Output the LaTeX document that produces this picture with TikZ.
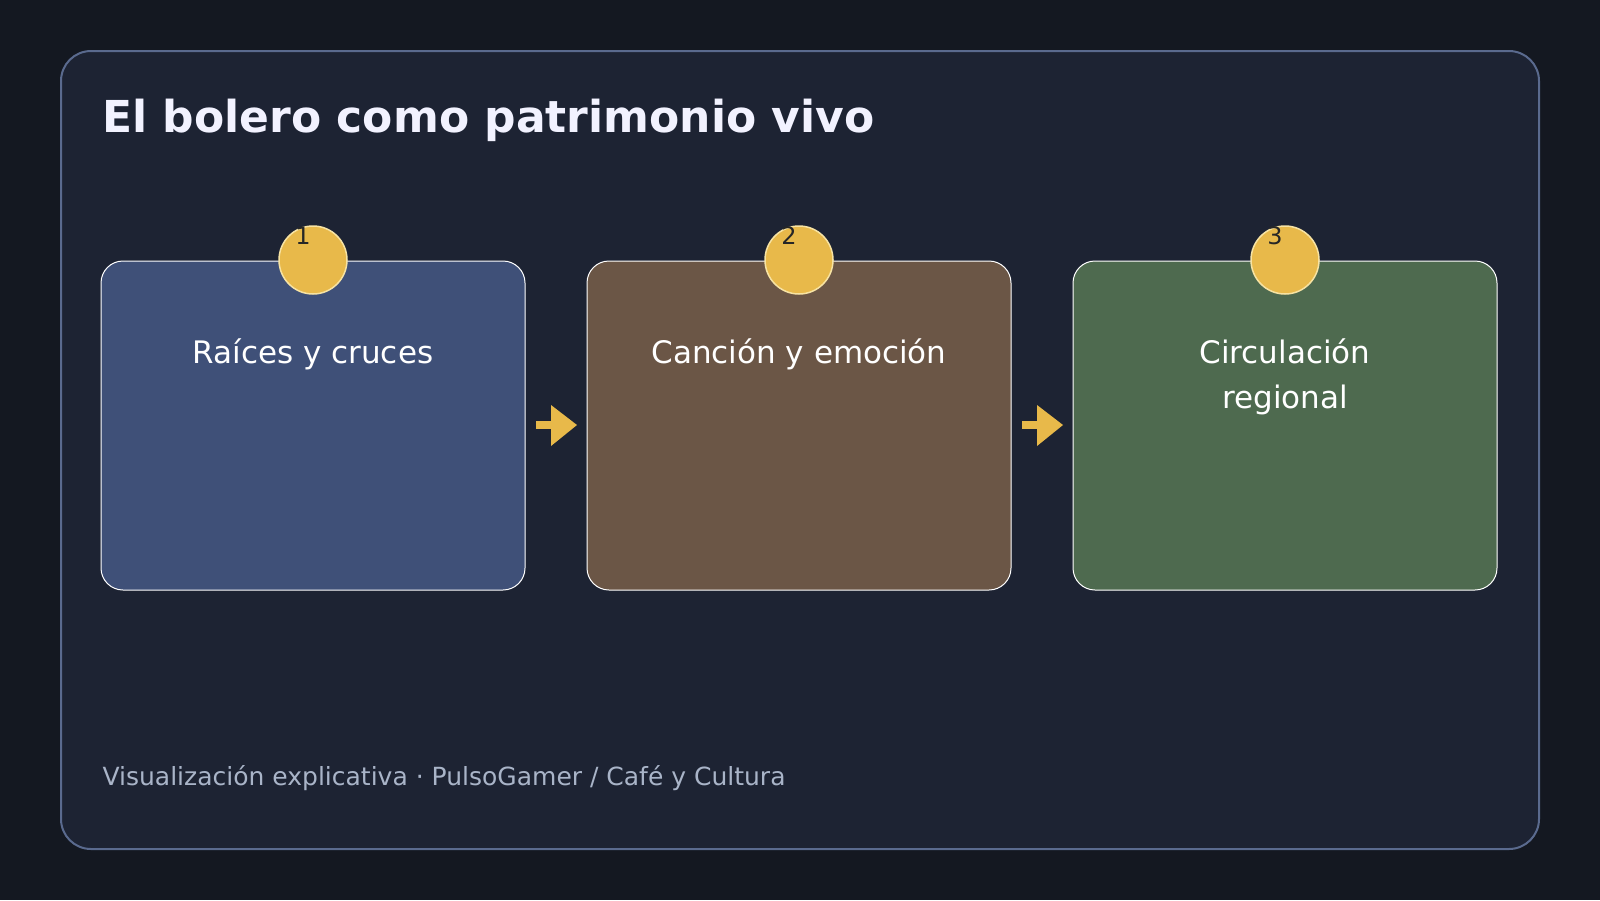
\documentclass[tikz,border=0pt]{standalone}
\usepackage{fontspec}
\setmainfont{DejaVu Sans}
\definecolor{bg}{HTML}{141821}
\definecolor{panel}{HTML}{1D2333}
\definecolor{pborder}{HTML}{5A6A8E}
\definecolor{boxa}{HTML}{3F5078}
\definecolor{boxb}{HTML}{6B5646}
\definecolor{boxc}{HTML}{4E6A4F}
\definecolor{gold}{HTML}{E8B94A}
\definecolor{goldl}{HTML}{F7E3A3}
\definecolor{foot}{HTML}{A9B4C8}
\begin{document}
\begin{tikzpicture}[x=1pt,y=-1pt,
  card/.style={draw=white,line width=1pt,rounded corners=22pt,minimum width=424pt,minimum height=329pt,inner sep=0pt},
  badge/.style={circle,fill=gold,draw=goldl,line width=1.5pt,minimum size=68pt,inner sep=0pt},
  num/.style={text=black!85,font=\fontsize{24}{28}\selectfont},
  lbl/.style={text=white,font=\fontsize{31}{45}\selectfont,align=center,anchor=north},
  arr/.style={fill=gold}]
\useasboundingbox (0,0) rectangle (1600,900);
\fill[bg] (0,0) rectangle (1600,900);
\draw[fill=panel,draw=pborder,line width=2pt,rounded corners=30pt] (61,51) rectangle (1539,849);
\node[anchor=base west,text=white!95!blue,font=\bfseries\fontsize{44}{50}\selectfont] (title) at (99,132) {El bolero como patrimonio vivo};
\foreach \i/\x/\c in {1/313/boxa,2/799/boxb,3/1285/boxc}{
  \node[card,fill=\c] (c\i) at (\x,425.5) {};
  \node[badge] (b\i) at (\x,260) {};
  \node[num] (n\i) at (\x-10,236) {\i};
}
\node[lbl] (l1) at (313,335) {Raíces y cruces};
\node[lbl] (l2) at (799,335) {Canción y emoción};
\node[lbl] (l3) at (1285,335) {Circulación\\regional};
\foreach \a/\xa in {1/536,2/1022}{
  \fill[arr] (\xa,421) rectangle (\xa+26,429);
  \fill[arr] (\xa+15,405) -- (\xa+41,425) -- (\xa+15,446) -- cycle;
}
\node[anchor=base west,text=foot,font=\fontsize{25}{30}\selectfont] (ft) at (99,785) {Visualización explicativa · PulsoGamer / Café y Cultura};
\end{tikzpicture}
\end{document}
